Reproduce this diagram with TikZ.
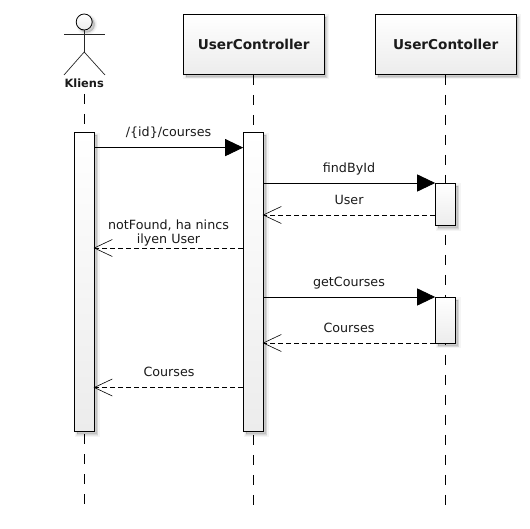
\documentclass[tikz,border=0pt]{standalone}
\usepackage{fontspec}
\setmainfont{DejaVu Sans}
\usetikzlibrary{arrows.meta}
\definecolor{ink}{HTML}{1A1A1A}
\definecolor{boxend}{HTML}{ECECEC}
\tikzset{
  softshadow/.style={
    preaction={draw=black,draw opacity=.04,fill=black,fill opacity=.04,line width=5pt,transform canvas={xshift=2.5pt,yshift=-2.5pt}},
    preaction={draw=black,draw opacity=.06,fill=black,fill opacity=.06,line width=2.5pt,transform canvas={xshift=2.5pt,yshift=-2.5pt}},
    preaction={draw=black,draw opacity=.07,fill=black,fill opacity=.07,line width=.5pt,transform canvas={xshift=2.5pt,yshift=-2.5pt}}},
  classbox/.style={softshadow,draw=black,line width=.9pt,top color=white,bottom color=boxend,minimum width=140.5pt,minimum height=60pt,inner sep=0pt,anchor=north west,font=\fontsize{13.6}{14}\selectfont\bfseries,text=ink},
  actbox/.style={softshadow,draw=black,line width=.9pt,top color=white,bottom color=boxend,minimum width=20pt,inner sep=0pt,anchor=north west},
  lifeline/.style={draw=black,line width=.8pt,dash pattern=on 10pt off 10pt},
  actorline/.style={draw=black!85,line width=.7pt},
  call/.style={draw=black,line width=.9pt,-{Triangle[length=18pt,width=17pt]}},
  reply/.style={draw=black,line width=.9pt,dash pattern=on 5pt off 3pt,shorten >=-1.5pt,-{Straight Barb[length=18pt,width=17pt,line width=.6pt]}},
  msg/.style={inner sep=0pt,anchor=base,font=\fontsize{12.7}{14}\selectfont,text=ink,align=center}
}
\begin{document}
\begin{tikzpicture}[x=1pt,y=-1pt]
\useasboundingbox (0,0) rectangle (530,529);
% actor
\node[softshadow,circle,draw=black,line width=.8pt,top color=white,bottom color=boxend,minimum size=16pt,inner sep=0pt] (head) at (84.2,22) {};
\coordinate (armL) at (64,34);
\coordinate (armR) at (105,34);
\coordinate (hip) at (84.2,52);
\coordinate (footL) at (64,75);
\coordinate (footR) at (105,75);
\draw[actorline] (head.south) -- (hip);
\draw[actorline] (armL) -- (armR);
\draw[actorline] (footL) -- (hip) -- (footR);
\node[inner sep=0pt,font=\fontsize{11.4}{12}\selectfont\bfseries,text=ink,anchor=base] (kliens) at (84.2,88) {Kliens};
% heads of the lifelines
\node[classbox] (ctrl) at (183,14) {UserController};
\node[classbox] (cont) at (375,14) {UserContoller};
% lifelines
\coordinate (startA) at (84.2,94);
\coordinate (endA) at (84.2,504.5);
\coordinate (endB) at (ctrl.south |- 0,504.5);
\coordinate (endC) at (cont.south |- 0,504.5);
\draw[lifeline] (startA) -- (endA);
\draw[lifeline] (ctrl.south) -- (endB);
\draw[lifeline] (cont.south) -- (endC);
% activations
\node[actbox,minimum height=299pt] (actA) at (74.2,132.3) {};
\node[actbox,minimum height=299pt] (actB) at (243.2,132.3) {};
\node[actbox,minimum height=42.5pt] (actC) at (435.2,183) {};
\node[actbox,minimum height=46pt] (actD) at (435.2,297) {};
% messages
\draw[call] (actA.east |- 0,147.6) -- (actB.west |- 0,147.6);
\draw[call] (actB.east |- 0,183) -- (actC.west |- 0,183);
\draw[reply] (actC.west |- 0,215) -- (actB.east |- 0,215);
\draw[reply] (actB.west |- 0,248) -- (actA.east |- 0,248);
\draw[call] (actB.east |- 0,297) -- (actD.west |- 0,297);
\draw[reply] (actD.west |- 0,343) -- (actB.east |- 0,343);
\draw[reply] (actB.west |- 0,387.5) -- (actA.east |- 0,387.5);
% labels
\node[msg] (m1) at (168.5,136.5) {/\{id\}/courses};
\node[msg] (m2) at (349,173) {findById};
\node[msg] (m3) at (349,204.5) {User};
\node[msg] (m4) at (168.5,244) {notFound, ha nincs\\ilyen User};
\node[msg] (m5) at (349,287) {getCourses};
\node[msg] (m6) at (349,332) {Courses};
\node[msg] (m7) at (169,376) {Courses};
\end{tikzpicture}
\end{document}
